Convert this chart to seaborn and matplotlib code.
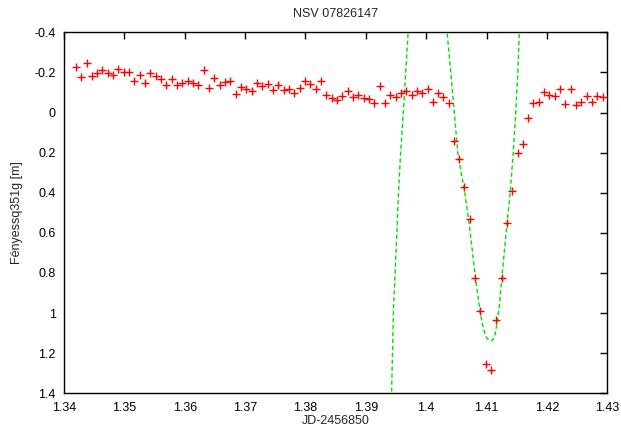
import pandas as pd
import matplotlib.pyplot as plt
import seaborn as sns

jd = [1.34194, 1.34281, 1.34376, 1.34459, 1.34546, 1.34634, 1.34724, 1.34811, 1.34899, 1.34988,
      1.35076, 1.35164, 1.35253, 1.35341, 1.35429, 1.35518, 1.35606, 1.35694, 1.35783, 1.35871,
      1.35959, 1.36048, 1.36136, 1.36224, 1.36313, 1.36401, 1.36488, 1.36578, 1.36666, 1.36753,
      1.36843, 1.36930, 1.37018, 1.37108, 1.37195, 1.37283, 1.37373, 1.37460, 1.37548, 1.37637,
      1.37725, 1.37813, 1.37902, 1.37990, 1.38078, 1.38167, 1.38255, 1.38343, 1.38432, 1.38520,
      1.38608, 1.38697, 1.38785, 1.38873, 1.38962, 1.39050, 1.39137, 1.39227, 1.39315, 1.39402,
      1.39492, 1.39580, 1.39667, 1.39757, 1.39844, 1.39932, 1.40022, 1.40109, 1.40197, 1.40286,
      1.40374, 1.40457, 1.40545, 1.40634, 1.40722, 1.40810, 1.40899, 1.40987, 1.41075, 1.41164,
      1.41252, 1.41339, 1.41429, 1.41517, 1.41604, 1.41690, 1.41776, 1.41864, 1.41952, 1.42041,
      1.42129, 1.42217, 1.42306, 1.42394, 1.42482, 1.42571, 1.42659, 1.42747, 1.42836, 1.42924]
mag = [-0.228, -0.175, -0.245, -0.183, -0.197, -0.210, -0.197, -0.188, -0.217, -0.200,
       -0.200, -0.158, -0.187, -0.147, -0.197, -0.180, -0.167, -0.135, -0.165, -0.137,
       -0.147, -0.158, -0.147, -0.138, -0.210, -0.120, -0.172, -0.138, -0.152, -0.155,
       -0.093, -0.127, -0.117, -0.107, -0.145, -0.130, -0.140, -0.112, -0.137, -0.110,
       -0.115, -0.095, -0.123, -0.158, -0.140, -0.118, -0.155, -0.085, -0.072, -0.063,
       -0.082, -0.105, -0.075, -0.085, -0.073, -0.065, -0.045, -0.130, -0.048, -0.088,
       -0.078, -0.095, -0.105, -0.085, -0.108, -0.095, -0.117, -0.050, -0.097, -0.077,
       -0.048, 0.142, 0.230, 0.370, 0.532, 0.825, 0.990, 1.255, 1.285, 1.035,
       0.825, 0.550, 0.393, 0.200, 0.157, 0.028, -0.048, -0.053, -0.103, -0.085,
       -0.080, -0.117, -0.042, -0.117, -0.037, -0.050, -0.083, -0.052, -0.083, -0.078]

# fitted curve (two visible pieces)
fit1_x = [1.39417, 1.39426, 1.39459, 1.39492, 1.39546, 1.39575, 1.39613, 1.39700, 1.39728]
fit1_y = [1.53, 1.40, 0.967, 0.750, 0.367, 0.208, 0.034, -0.400, -0.567]
fit2_x = [1.40318, 1.40346, 1.40407, 1.40465, 1.40523, 1.40580, 1.40639, 1.40686, 1.40730,
          1.40768, 1.40805, 1.40850, 1.40896, 1.40935, 1.40970, 1.41005, 1.41040, 1.41075,
          1.41110, 1.41140, 1.41175, 1.41215, 1.41252, 1.41295, 1.41339, 1.41391, 1.41441,
          1.41483, 1.41517, 1.41541, 1.41555]
fit2_y = [-0.567, -0.400, -0.200, 0.000, 0.200, 0.300, 0.400, 0.500, 0.600,
          0.700, 0.800, 0.900, 1.000, 1.060, 1.100, 1.125, 1.136, 1.139,
          1.130, 1.105, 1.050, 0.950, 0.825, 0.690, 0.550, 0.400, 0.200,
          0.000, -0.200, -0.400, -0.567]

obs = pd.DataFrame({'jd': jd, 'mag': mag})
fit1 = pd.DataFrame({'jd': fit1_x, 'mag': fit1_y})
fit2 = pd.DataFrame({'jd': fit2_x, 'mag': fit2_y})

sns.set_theme(style="white")
plt.rcParams['font.family'] = ['Liberation Sans', 'DejaVu Sans']

fig = plt.figure(figsize=(6.21, 4.30), dpi=100)
ax = fig.add_axes([0.103, 0.0853, 0.875, 0.8396])

for part in (fit1, fit2):
    sns.lineplot(x='jd', y='mag', data=part, sort=False, color='#00dd00', lw=1,
                 dashes=False, ax=ax).lines[-1].set_dashes([3, 2])
sns.scatterplot(x='jd', y='mag', data=obs, marker='+', color='red', s=40,
                linewidth=1, ax=ax, zorder=3)

ax.set_xlim(1.34, 1.43)
ax.set_ylim(1.4, -0.4)
ax.set_xticks([1.34, 1.35, 1.36, 1.37, 1.38, 1.39, 1.40, 1.41, 1.42, 1.43])
ax.set_xticklabels(['1.34', '1.35', '1.36', '1.37', '1.38', '1.39', '1.4', '1.41', '1.42', '1.43'])
ax.set_yticks([-0.4, -0.2, 0, 0.2, 0.4, 0.6, 0.8, 1, 1.2, 1.4])
ax.set_yticklabels(['-0.4', '-0.2', '0', '0.2', '0.4', '0.6', '0.8', '1', '1.2', '1.4'])
ax.tick_params(direction='in', length=5, width=1, top=True, right=True,
               labelsize=9, pad=6, colors='black')
for s in ax.spines.values():
    s.set_color('black')
    s.set_linewidth(1)

ax.set_xlabel('JD-2456850', fontsize=9, labelpad=1)
ax.set_ylabel('Fényessq351g [m]', fontsize=9, labelpad=8)
ax.set_title('NSV 07826147', fontsize=9, pad=11)

fig.savefig('out.png', dpi=100)
